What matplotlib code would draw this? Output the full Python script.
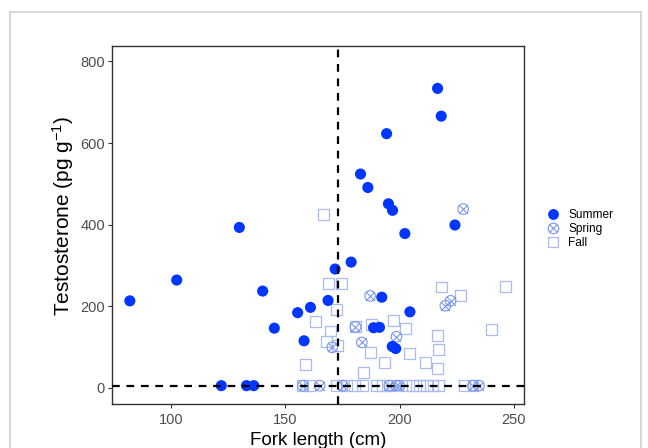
import matplotlib
matplotlib.use("Agg")
import matplotlib.pyplot as plt
from matplotlib.lines import Line2D

plt.rcParams['font.family'] = ['Liberation Sans', 'DejaVu Sans']
plt.rcParams['mathtext.fontset'] = 'custom'
plt.rcParams['mathtext.rm'] = 'Liberation Sans'
plt.rcParams['mathtext.it'] = 'Liberation Sans'
plt.rcParams['mathtext.default'] = 'regular'

# ---- data ----
summer_x = [82.0, 102.5, 129.9, 122.0, 133.0, 136.2, 140.1, 145.2, 155.4, 158.2,
            161.0, 168.7, 171.8, 178.8, 188.6, 191.2, 192.2, 196.8, 198.3, 204.5,
            202.3, 224.2, 216.6, 218.2, 194.3, 182.9, 186.1, 195.1, 196.9]
summer_y = [213, 264, 393, 5, 5, 5, 237, 146, 184, 115,
            197, 214, 291, 308, 147, 148, 222, 101, 96, 186,
            378, 399, 734, 666, 623, 524, 491, 451, 435]

spring_x = [227.8, 222.3, 220.0, 187.1, 180.7, 183.5, 198.6, 170.5,
            157.7, 165.0, 175.1, 195.5, 198.5, 199.9, 232.1, 234.7]
spring_y = [438, 213, 201, 225, 149, 111, 125, 99,
            5, 5, 5, 5, 5, 5, 5, 5]

fall_x = [166.7, 168.9, 174.7, 172.2, 163.2, 169.6, 167.9, 172.7, 158.7, 180.5,
          187.7, 197.3, 202.5, 187.3, 193.4, 184.2, 204.5, 211.5, 216.7, 217.2,
          216.7, 218.2, 226.8, 240.1, 246.2,
          157.7, 160.6, 172.2, 176.6, 180.3, 183.9, 189.7, 192.6, 195.5, 202.8,
          205.7, 208.8, 211.7, 214.6, 216.8, 228.5, 232.1]
fall_y = [425, 256, 256, 191, 162, 139, 113, 103, 56, 150,
          155, 164, 145, 86, 62, 38, 83, 62, 127, 94,
          46, 247, 226, 143, 248,
          5, 5, 5, 5, 5, 5, 5, 5, 5, 5,
          5, 5, 5, 5, 5, 5, 5]

threshold_x = 173
threshold_y = 5

x_ticks = [100, 150, 200, 250]
y_ticks = [0, 200, 400, 600, 800]

c_summer = '#0036FF'
c_spring = '#7A96EA'
c_fall = '#A8BCF0'

fig = plt.figure(figsize=(6.48, 4.48), dpi=100)
ax = fig.add_axes([112/648, 1-404/448, (524-112)/648, (404-46)/448])

# outer frame of image
for xs, ys in [([10/648, 10/648], [0, 1-12/448]),
               ([10/648, 641/648], [1-12/448, 1-12/448]),
               ([641/648, 641/648], [0, 1-12/448])]:
    fig.add_artist(Line2D(xs, ys, color='#D0D0D0', lw=1.2, transform=fig.transFigure))

ax.scatter(fall_x, fall_y, marker='s', s=62, facecolors='none', edgecolors=c_fall,
           linewidths=0.9, zorder=2)
ax.scatter(spring_x, spring_y, marker='o', s=58, facecolors='none', edgecolors=c_spring,
           linewidths=0.8, zorder=3)
ax.scatter(spring_x, spring_y, marker='x', s=42, color=c_spring, linewidths=0.8, zorder=3)
ax.scatter(summer_x, summer_y, marker='o', s=64, color=c_summer, edgecolors='none', zorder=4)

ax.axvline(threshold_x, color='black', lw=1.6, dashes=(3.5, 3), zorder=5)
ax.axhline(threshold_y, color='black', lw=1.6, dashes=(3.5, 3), zorder=5)

ax.set_xlim(74.2, 254.4)
ax.set_ylim(-40, 838)
ax.set_xticks(x_ticks)
ax.set_yticks(y_ticks)
ax.tick_params(axis='both', colors='#333333', labelcolor='#4D4D4D', labelsize=10.5,
               length=3, width=0.8, direction='out', pad=2)
ax.tick_params(axis='x', pad=3.5)
for sp in ax.spines.values():
    sp.set_color('#333333')
    sp.set_linewidth(1.0)

ax.set_xlabel('Fork length (cm)', fontsize=13.5, labelpad=3.5)
ax.set_ylabel('Testosterone (pg g$^{-1}$)', fontsize=15)
ax.yaxis.set_label_coords(-0.088, 0.525)

# legend
h_summer = Line2D([], [], marker='o', ls='none', color=c_summer, markersize=7.8, mec='none')
h_spring = (Line2D([], [], marker='o', ls='none', mfc='none', mec=c_spring, markersize=7.6, mew=0.8),
            Line2D([], [], marker='x', ls='none', color=c_spring, markersize=6.4, mew=0.8))
h_fall = Line2D([], [], marker='s', ls='none', mfc='none', mec=c_fall, markersize=7.6, mew=0.9)
fig.legend([h_summer, h_spring, h_fall], ['Summer', 'Spring', 'Fall'],
           loc='center left', bbox_to_anchor=(542/648, 1-229/448), frameon=False,
           fontsize=8.6, handlelength=1.0, handletextpad=0.8, labelspacing=0.15,
           borderaxespad=0)

fig.savefig('out.png', dpi=100)
